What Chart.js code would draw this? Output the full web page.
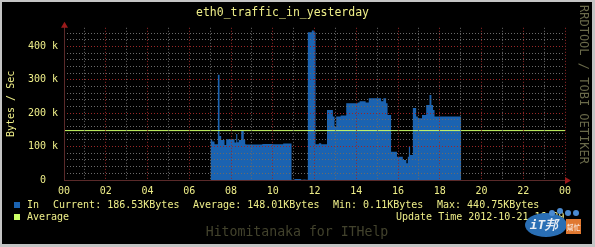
<!DOCTYPE html>
<html>
<head>
<meta charset="utf-8">
<script src="https://cdn.jsdelivr.net/npm/chart.js@4"></script>
<style>
  html, body { margin: 0; padding: 0; background: #c4c4c4; }
  #wrap { width: 595px; height: 247px; }
</style>
</head>
<body>
<div id="wrap"><canvas id="chart" width="595" height="247"></canvas></div>
<script>
// hours of the day (x) and bytes/sec (y)
const inHours = [7.02, 7.10, 7.21, 7.37, 7.45, 7.53, 7.69, 7.77, 8.17, 8.25, 8.30, 8.37, 8.49, 8.61, 8.68, 8.73,
    9.50, 10.00, 10.50, 10.90, 11.04, 11.36, 11.47, 11.57, 11.68, 11.87, 11.97, 12.05, 12.21, 12.32, 12.60,
    12.88, 12.96, 13.04, 13.25, 13.52, 14.07, 14.16, 14.45, 14.60, 15.19, 15.30, 15.43, 15.50, 15.67, 15.95,
    16.23, 16.40, 16.47, 16.52, 16.58, 16.71, 16.87, 16.95, 17.15, 17.35, 17.51, 17.60, 17.68, 17.75, 18.07, 19.03];
const inValues = [115000, 122000, 115000, 107000, 315000, 132000, 120000, 105000, 122000, 112000, 138000, 113000, 120000, 147000, 120000, 107000,
    106000, 108000, 107000, 109000, 500, 3000, 500, 1500, 500, 443000, 448000, 443000, 107000, 110000, 107000,
    210000, 190000, 160000, 190000, 193000, 230000, 232000, 236000, 232000, 245000, 236000, 245000, 230000, 195000, 85000,
    70000, 60000, 50000, 70000, 100000, 75000, 216000, 190000, 185000, 195000, 225000, 255000, 225000, 210000, 190000, 190000];
const averageValue = 148010;

// grid / tick positions
const hourTicks = [0, 1, 2, 3, 4, 5, 6, 7, 8, 9, 10, 11, 12, 13, 14, 15, 16, 17, 18, 19, 20, 21, 22, 23, 24];
const yTicks = [0, 20000, 40000, 60000, 80000, 100000, 120000, 140000, 160000, 180000, 200000, 220000, 240000,
    260000, 280000, 300000, 320000, 340000, 360000, 380000, 400000, 420000, 440000];

const titleText = "eth0_traffic_in_yesterday";
const legendIn = ["In", "Current: 186.53KBytes", "Average: 148.01KBytes", "Min: 0.11KBytes", "Max: 440.75KBytes"];
const legendAvg = "Average";
const updateText = "Update Time 2012-10-21 16:39";

const MONO = '"DejaVu Sans Mono", monospace';
const TXT = "#eeee88";
const BLUE = "#1b63b1";
const LIME = "#ccff66";
const RED_GRID = "#9a2828";
const GRAY_GRID = "#6a6a6a";

const decor = {
    id: "decor",
    beforeDraw(c) {
        const ctx = c.ctx;
        ctx.save();
        ctx.fillStyle = "#c4c4c4";
        ctx.fillRect(0, 0, 595, 247);
        ctx.fillStyle = "#000";
        ctx.fillRect(2, 2, 590, 242);
        ctx.restore();
    },
    afterDraw(c) {
        const ctx = c.ctx;
        const a = c.chartArea;
        ctx.save();
        // axes
        ctx.strokeStyle = "#5a2a2a";
        ctx.lineWidth = 1;
        ctx.beginPath();
        ctx.moveTo(Math.round(a.left) + 0.5, a.bottom);
        ctx.lineTo(Math.round(a.left) + 0.5, a.top - 2);
        ctx.moveTo(a.left, Math.round(a.bottom) + 0.5);
        ctx.lineTo(a.right + 3, Math.round(a.bottom) + 0.5);
        ctx.stroke();
        ctx.fillStyle = "#9a1a1a";
        ctx.beginPath();
        ctx.moveTo(Math.round(a.left) + 0.5, a.top - 6);
        ctx.lineTo(Math.round(a.left) - 3, a.top);
        ctx.lineTo(Math.round(a.left) + 4, a.top);
        ctx.fill();
        ctx.beginPath();
        ctx.moveTo(a.right + 6, Math.round(a.bottom) + 0.5);
        ctx.lineTo(a.right, Math.round(a.bottom) - 3);
        ctx.lineTo(a.right, Math.round(a.bottom) + 4);
        ctx.fill();

        // legend
        ctx.textBaseline = "middle";
        ctx.font = "10px " + MONO;
        ctx.fillStyle = BLUE;
        ctx.fillRect(14, 202, 6, 6);
        ctx.fillStyle = LIME;
        ctx.fillRect(14, 214, 6, 6);
        ctx.fillStyle = TXT;
        const xs = [27, 53, 193, 333, 437];
        legendIn.forEach((t, i) => ctx.fillText(t, xs[i], 205.5));
        ctx.fillText(legendAvg, 27, 217);
        ctx.fillText(updateText, 396, 217);

        // watermarks
        ctx.fillStyle = "#42422c";
        ctx.font = "13.2px " + MONO;
        ctx.textAlign = "center";
        ctx.fillText("Hitomitanaka for ITHelp", 297, 233);
        ctx.save();
        ctx.translate(583, 5);
        ctx.rotate(Math.PI / 2);
        ctx.textAlign = "left";
        ctx.fillStyle = "#6a6a4a";
        ctx.font = "12px " + MONO;
        ctx.fillText("RRDTOOL / TOBI OETIKER", 0, 0);
        ctx.restore();

        // IT logo (rough)
        ctx.fillStyle = "#2a6fb5";
        ctx.beginPath();
        ctx.ellipse(546, 225, 21, 12, 0, 0, Math.PI * 2);
        ctx.fill();
        ctx.fillStyle = "#e8eef5";
        ctx.font = "bold italic 13px " + MONO;
        ctx.fillText("iT邦", 544, 226);
        ctx.fillStyle = "#e07830";
        ctx.fillRect(566, 219, 15, 15);
        ctx.fillStyle = "#fff";
        ctx.font = "7px 'Noto Sans CJK TC'";
        ctx.fillText("幫忙", 573.5, 227);
        ctx.fillStyle = "#4a8ad0";
        [[552, 213], [560, 211], [568, 213], [576, 213]].forEach(p => {
            ctx.beginPath();
            ctx.arc(p[0], p[1], 3, 0, Math.PI * 2);
            ctx.fill();
        });
        ctx.restore();
    }
};

new Chart(document.getElementById("chart"), {
    type: "line",
    data: {
        datasets: [
            {
                label: "Average",
                data: [{ x: 0, y: averageValue }, { x: 24, y: averageValue }],
                borderColor: LIME,
                borderWidth: 1,
                pointRadius: 0,
                fill: false,
                order: 0
            },
            {
                label: "In",
                data: inHours.map((h, i) => ({ x: h, y: inValues[i] })),
                stepped: "after",
                borderWidth: 0,
                borderColor: BLUE,
                backgroundColor: BLUE,
                pointRadius: 0,
                fill: "origin",
                order: 1
            }
        ]
    },
    options: {
        responsive: false,
        animation: false,
        devicePixelRatio: 1,
        layout: { padding: { left: 0, right: 30, top: 0, bottom: 47 } },
        plugins: {
            legend: { display: false },
            tooltip: { enabled: false },
            title: {
                display: true,
                text: titleText,
                color: TXT,
                font: { family: MONO, size: 11.5, weight: "normal" },
                padding: { top: 6, bottom: 8 }
            }
        },
        scales: {
            x: {
                type: "linear",
                min: 0,
                max: 24,
                afterFit: s => { s.height = 20; },
                afterBuildTicks: s => { s.ticks = hourTicks.map(v => ({ value: v })); },
                border: { display: false, dash: [1, 2] },
                grid: {
                    z: 1,
                    drawTicks: false,
                    lineWidth: 1,
                    borderDash: [1, 2],
                    color: ctx => (ctx.tick && ctx.tick.value % 2 === 0) ? RED_GRID : GRAY_GRID
                },
                ticks: {
                    autoSkip: false,
                    maxRotation: 0,
                    padding: 5,
                    color: TXT,
                    font: { family: MONO, size: 10 },
                    callback: v => v % 2 === 0 ? String(v % 24).padStart(2, "0") : ""
                }
            },
            y: {
                type: "linear",
                min: 0,
                max: 456000,
                afterFit: s => { s.width = 64; },
                afterBuildTicks: s => { s.ticks = yTicks.map(v => ({ value: v })); },
                border: { display: false, dash: [1, 2] },
                grid: {
                    z: 1,
                    drawTicks: false,
                    lineWidth: 1,
                    borderDash: [1, 2],
                    color: ctx => (ctx.tick && ctx.tick.value % 100000 === 0) ? RED_GRID : GRAY_GRID
                },
                title: {
                    display: true,
                    text: "Bytes / Sec",
                    color: TXT,
                    font: { family: MONO, size: 10 },
                    padding: { top: 5, bottom: 0 }
                },
                ticks: {
                    autoSkip: false,
                    padding: 6,
                    color: TXT,
                    font: { family: MONO, size: 10 },
                    callback: v => v % 100000 !== 0 ? "" : (v === 0 ? "0  " : (v / 1000) + " k")
                }
            }
        }
    },
    plugins: [decor]
});
</script>
</body>
</html>
